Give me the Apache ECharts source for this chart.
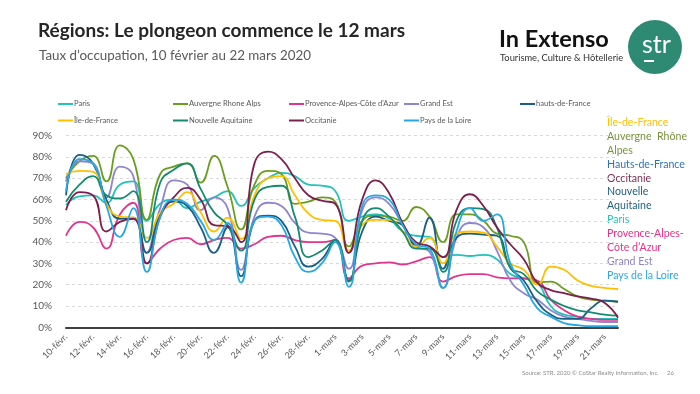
<!DOCTYPE html>
<html><head><meta charset="utf-8">
<script src="https://cdn.jsdelivr.net/npm/echarts@6/dist/echarts.min.js"></script>
<style>html,body{margin:0;padding:0;background:#fff}#c{width:700px;height:394px}</style>
</head><body><div id="c"></div>
<script>
const categories = ["10-févr.","11-févr.","12-févr.","13-févr.","14-févr.","15-févr.","16-févr.","17-févr.","18-févr.","19-févr.","20-févr.","21-févr.","22-févr.","23-févr.","24-févr.","25-févr.","26-févr.","27-févr.","28-févr.","29-févr.","1-mars","2-mars","3-mars","4-mars","5-mars","6-mars","7-mars","8-mars","9-mars","10-mars","11-mars","12-mars","13-mars","14-mars","15-mars","16-mars","17-mars","18-mars","19-mars","20-mars","21-mars","22-mars"];

const paris = [57.5,61.5,62,58.5,67,68.5,50,58,60,56,59,61,64,57,65.5,70,72.5,71,67,66.5,64,50,52,53,51,45,43,42.5,33,34,33.5,34,32,25,23,21,10,6,5,4,4,4];
const auvergne = [70,78,80.5,68.5,85.5,79,50.5,72,75.5,77,68,80.5,66,46,67,73.5,72,58,59,61,59,38,50,52.5,52,50,56.5,52,40,53,53,50,44,43,40,21,21.5,18,14.5,13,12.5,12];
const provence = [43,49.5,47,37,53,58.5,30,37,41,42,39,41,42,37,39,42.5,43,41,40,40,41,23,29,30,30.5,29.5,31,33,21.5,24,25,25,23.5,23,23,22,13,8,5,4,3.5,3.5];
const grandEst = [68.5,78,77,61,75.5,71,35,56,69,67,55,61,56,27,52,58.5,57,49,44.5,44,42,27.5,55,61,58,48,38,35.5,18.5,42,49,47,36,22,16,13,8,5,4,3,2.5,2.5];
const hautsDeFrance = [62,81,77,60,51,51.5,35,53,59,57,47,35,47,24,50,52.5,50,38,28.5,32,41,22,45,52,50,48,38,51.5,27.5,42,44,43.5,43,28,22,12,6,4,4,9,12.5,12];
const ileDeFrance = [72,73.5,73,58,52,51.5,42,54,58,63.5,54,45,51.5,41.5,62,70,71,62,53.5,50.5,50,36,48,50.5,50.5,45,38,42,30,44,45,44.5,38,30,27,20,28.5,27,22,19.5,18.5,18];
const nouvelleAquitaine = [59,67,71,62,60.5,64,40,68,74,77,65,54,48,36,60,66,66.5,52,33,36,41,21.5,50,56,52,45,37,37,26,50,56,55.5,47,28,25,17,13,10,8,7,6,5.5];
const occitanie = [55,63.5,62,45,49.5,51,30,52,61,65.5,60,48,47.5,40,77,82.5,79,70,62,59.5,58,35,60,69,63,49,40,38,33,55,62.5,57,47,39,32,21,17.5,16,14.5,13.5,11.5,4.5];
const paysDeLaLoire = [64,79,77,57,42.5,56,26,52,60,58,50,41,49,21,50,52,48,33,26,30,40,19,57,62,60,48,39,37,18.5,45,56,50,53,30,20,9,5,2,1,0.5,0.5,0.5];

const seriesNames = ["Paris","Auvergne Rhone Alps","Provence-Alpes-Côte d'Azur","Grand Est","hauts-de-France","Île-de-France","Nouvelle Aquitaine","Occitanie","Pays de la Loire"];
const seriesData = [paris,auvergne,provence,grandEst,hautsDeFrance,ileDeFrance,nouvelleAquitaine,occitanie,paysDeLaLoire];
const seriesColors = ["#1FC4BC","#6B9E1F","#E3348C","#8E84D0","#1A5E83","#FFC000","#168A70","#7D1E4E","#27A8E0"];

const yTicks = [0,10,20,30,40,50,60,70,80,90];

const sideLabels = [
  ["Île-de-France","#FFC000"],["Auvergne  Rhône","#77933C"],["Alpes","#77933C"],["Hauts-de-France","#2E75B6"],
  ["Occitanie","#7D2C55"],["Nouvelle","#1F5F7F"],["Aquitaine","#1F5F7F"],["Paris","#2BC4B8"],
  ["Provence-Alpes-","#E3348C"],["Côte d’Azur","#E3348C"],["Grand Est","#8E84C0"],["Pays de la Loire","#2EA8E0"]
];

const FONT = "Lato, 'Open Sans', sans-serif";
const chart = echarts.init(document.getElementById('c'), null, {renderer:'canvas'});

const graphics = [
  {type:'text', left: 38, top: 21, style:{text:'Régions: Le plongeon commence le 12 mars', font:"bold 19px "+FONT, fill:'#262626'}},
  {type:'text', left: 39, top: 49, style:{text:'Taux d’occupation, 10 février au 22 mars 2020', font:"13.4px "+FONT, fill:'#595959'}},
  {type:'text', left: 499, top: 27, style:{text:'In Extenso', font:"bold 23.5px "+FONT, fill:'#111'}},
  {type:'text', left: 500, top: 53, style:{text:'Tourisme, Culture & Hôtellerie', font:"9.3px "+FONT, fill:'#333'}},
  {type:'circle', shape:{cx:655, cy:47, r:27}, style:{fill:'#2E8A72'}},
  {type:'text', left: 642, top: 32, style:{text:'str', font:"25px "+FONT, fill:'#fff'}},
  {type:'rect', shape:{x:644, y:60, width:10, height:2}, style:{fill:'#fff'}},
  {type:'text', left: 522, top: 370, style:{text:'Source: STR. 2020 © CoStar Realty Information, Inc.', font:"6px "+FONT, fill:'#8c8c8c'}},
  {type:'text', left: 667, top: 370, style:{text:'26', font:"6px "+FONT, fill:'#8c8c8c'}}
];
sideLabels.forEach((s,i)=>{
  graphics.push({type:'text', left:607, top: 117 + i*13.9, style:{text:s[0], font:"10.6px "+FONT, fill:s[1]}});
});

const legendLeft = [58,173,289,404,520,58,173,289,404];
const legendTop = [100,100,100,100,100,116.5,116.5,116.5,116.5];
const legends = seriesNames.map((n,i)=>({
  data:[n], left: legendLeft[i], top: legendTop[i], padding: 0,
  itemWidth: 15, itemHeight: 2, icon: 'rect', itemGap: 0,
  textStyle: {fontSize: 7.6, color:'#595959', fontFamily: FONT, padding:[0,0,0,-4]}
}));

chart.setOption({
  animation: false,
  graphic: graphics,
  legend: legends,
  grid: {left: 66, right: 82, top: 135.7, bottom: 66.7, containLabel: false},
  xAxis: {
    type:'category', data: categories, boundaryGap: false,
    axisLine:{show:true, lineStyle:{color:'#404040', width:2}},
    axisTick:{show:false},
    axisLabel:{interval:1, rotate:45, color:'#595959', fontSize:9, fontFamily:FONT, margin:8},
    splitLine:{show:false}
  },
  yAxis: {
    type:'value', min: yTicks[0], max: yTicks[yTicks.length-1], interval: 10,
    axisLine:{show:false}, axisTick:{show:false},
    axisLabel:{formatter:'{value}%', color:'#595959', fontSize:10, fontFamily:FONT, margin:14},
    splitLine:{show:true, lineStyle:{color:'#D9D9D9', type:[3,3], width:1}}
  },
  series: seriesNames.map((n,i)=>({
    name:n, type:'line', data: seriesData[i], smooth: 0.5, showSymbol:false, symbol:'none',
    lineStyle:{color: seriesColors[i], width:1.8}, itemStyle:{color: seriesColors[i]}
  }))
});
</script></body></html>
